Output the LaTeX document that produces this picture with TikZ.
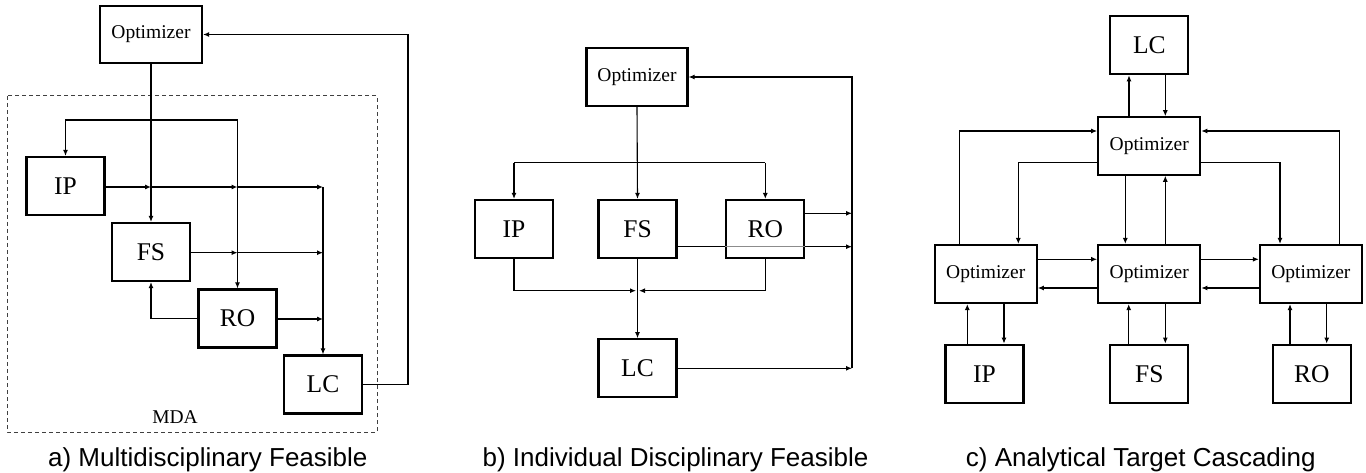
\documentclass[tikz,border=0pt]{standalone}
\usepackage{fontspec}
\setmainfont{Liberation Serif}
\newfontfamily\capfont{Liberation Sans}
\usetikzlibrary{arrows.meta}
\tikzset{
  blk/.style={draw, line width=2.2pt, inner sep=0pt, minimum width=78pt, minimum height=58pt, font=\fontsize{25.5}{27}\selectfont},
  optbox/.style={blk, minimum width=102pt, font=\fontsize{19.5}{21}\selectfont},
  conn/.style={line width=1.1pt},
  arr/.style={conn, -{Latex[length=6pt,width=5pt]}},
  captxt/.style={anchor=base, font=\capfont\fontsize{26}{28}\selectfont},
}
\begin{document}
\begin{tikzpicture}[x=1pt,y=-1pt]
\useasboundingbox (0,0) rectangle (1366,473);
% ================= a) MDF =================
\node[optbox, minimum height=57pt] (OptA) at (151,34.5) {Optimizer};
\node[blk] (IPa) at (65.5,186) {IP};
\node[blk] (FSa) at (151,252) {FS};
\node[blk] (ROa) at (237.5,318.5) {RO};
\node[blk] (LCa) at (323,384.5) {LC};
\draw[dash pattern=on 4pt off 3pt, line width=1pt, black!75] (7,96) rectangle (377,432);
\node[anchor=base, font=\fontsize{19.5}{21}\selectfont] (mda) at (175,423) {MDA};
\coordinate (ta) at (237.5,120);
\coordinate (fa) at (408,384.5);
\coordinate (ia1) at (151,187);
\coordinate (ia2) at (237.5,187);
\coordinate (ia3) at (323,187);
\coordinate (fa2) at (237.5,252.7);
\coordinate (fa3) at (323,252.7);
\coordinate (ra3) at (323,319);
\draw[arr] (OptA.south) -- (FSa.north);
\draw[arr] (LCa.east) -- (fa) |- (OptA.east);
\draw[arr] (ta) -| (IPa.north);
\draw[arr] (ta) -- (ROa.north);
\draw[arr] (IPa.east |- ia1) -- (ia1);
\draw[arr] (ia1) -- (ia2);
\draw[arr] (ia2) -- (ia3);
\draw[arr] (ia3) -- (LCa.north);
\draw[arr] (FSa.east |- fa2) -- (fa2);
\draw[arr] (fa2) -- (fa3);
\draw[arr] (ROa.east |- ra3) -- (ra3);
\draw[arr] (ROa.west) -| (FSa.south);
\node[captxt] (capA) at (207.8,466) {a) Multidisciplinary Feasible};
% ================= b) IDF =================
\node[optbox, minimum width=101pt] (OptB) at (637,77) {Optimizer};
\node[blk] (IPb) at (514,229) {IP};
\node[blk] (FSb) at (637.5,229) {FS};
\node[blk] (ROb) at (765.3,229) {RO};
\node[blk] (LCb) at (637.5,368.3) {LC};
\coordinate (tb1) at (514,162.7);
\coordinate (tb2) at (765.3,162.7);
\coordinate (rb) at (852,368.3);
\coordinate (rb1) at (852,213.3);
\coordinate (rb2) at (852,246.7);
\coordinate (bb1) at (636,290.7);
\coordinate (bb2) at (639,290.7);
\draw[arr] (OptB.south) -- (FSb.north);
\draw[conn] (tb1) -- (tb2);
\draw[arr] (tb1) -- (IPb.north);
\draw[arr] (tb2) -- (ROb.north);
\draw[arr] (LCb.east) -- (rb);
\draw[arr] (rb) |- (OptB.east);
\draw[arr] (ROb.east |- rb1) -- (rb1);
\draw[conn] (FSb.east |- rb2) -- (ROb.west |- rb2);
\draw[conn, black!45] (ROb.west |- rb2) -- (ROb.east |- rb2);
\draw[arr] (ROb.east |- rb2) -- (rb2);
\draw[arr] (IPb.south) |- (bb1);
\draw[arr] (ROb.south) |- (bb2);
\draw[arr] (FSb.south) -- (LCb.north);
\node[captxt] (capB) at (675.5,466) {b) Individual Disciplinary Feasible};
% ================= c) ATC =================
\node[blk] (LCc) at (1149.3,45.2) {LC};
\node[optbox, minimum height=57.4pt] (OptT) at (1149.2,146) {Optimizer};
\node[optbox] (OptL) at (985.7,274) {Optimizer};
\node[optbox] (OptM) at (1149.2,274) {Optimizer};
\node[optbox] (OptR) at (1310.9,274) {Optimizer};
\node[blk] (IPc) at (984.5,373.7) {IP};
\node[blk] (FSc) at (1149.3,373.7) {FS};
\node[blk] (ROc) at (1311.8,373.7) {RO};
% LC <-> top optimizer
\draw[arr] (OptT.north -| 1129,0) -- (LCc.south -| 1129,0);
\draw[arr] (LCc.south -| 1165.3,0) -- (OptT.north -| 1165.3,0);
% outer loops
\draw[arr] (OptL.north -| 959.3,0) |- (OptT.west |- 0,131);
\draw[arr] (OptR.north -| 1339.3,0) |- (OptT.east |- 0,131);
% inner loops
\draw[arr] (OptT.west |- 0,162.3) -| (OptL.north -| 1018.3,0);
\draw[arr] (OptT.east |- 0,162.3) -| (OptR.north -| 1280,0);
% middle
\draw[arr] (OptT.south -| 1125.3,0) -- (OptM.north -| 1125.3,0);
\draw[arr] (OptM.north -| 1165.3,0) -- (OptT.south -| 1165.3,0);
% horizontal
\draw[arr] (OptL.east |- 0,259.3) -- (OptM.west |- 0,259.3);
\draw[arr] (OptM.west |- 0,288) -- (OptL.east |- 0,288);
\draw[arr] (OptM.east |- 0,259.3) -- (OptR.west |- 0,259.3);
\draw[arr] (OptR.west |- 0,288) -- (OptM.east |- 0,288);
% subsystems
\draw[arr] (IPc.north -| 967.3,0) -- (OptL.south -| 967.3,0);
\draw[arr] (OptL.south -| 1004,0) -- (IPc.north -| 1004,0);
\draw[arr] (FSc.north -| 1128.7,0) -- (OptM.south -| 1128.7,0);
\draw[arr] (OptM.south -| 1165.3,0) -- (FSc.north -| 1165.3,0);
\draw[arr] (ROc.north -| 1290,0) -- (OptR.south -| 1290,0);
\draw[arr] (OptR.south -| 1326.7,0) -- (ROc.north -| 1326.7,0);
\node[captxt] (capC) at (1140.8,466) {c) Analytical Target Cascading};
\end{tikzpicture}
\end{document}
